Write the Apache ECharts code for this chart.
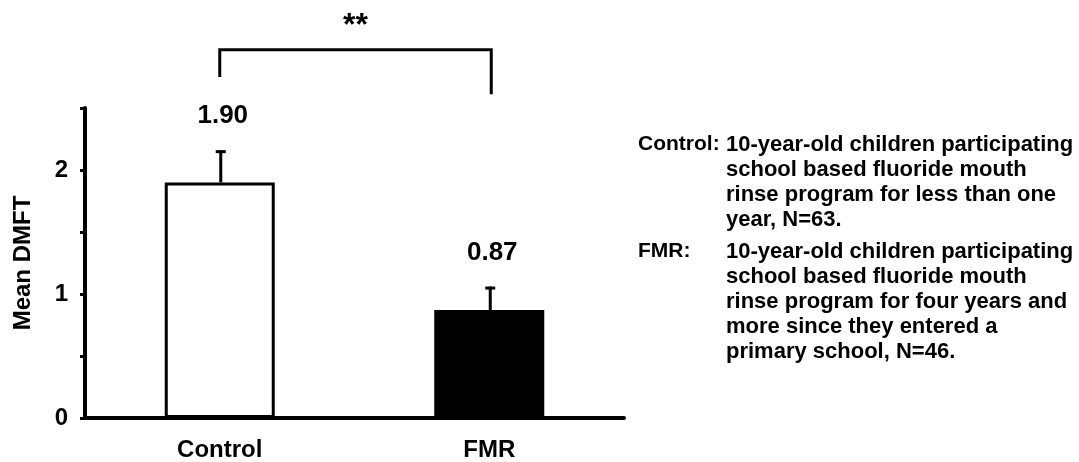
<!DOCTYPE html>
<html>
<head>
<meta charset="utf-8">
<script src="https://cdn.jsdelivr.net/npm/echarts@6/dist/echarts.min.js"></script>
<style>
  html, body { margin: 0; padding: 0; background: #fff; }
  #container { width: 1079px; height: 462px; }
</style>
</head>
<body>
<div id="container"></div>
<script>
// data
var categories = ['Control', 'FMR'];
var means = [1.90, 0.87];
var errors = [0.26, 0.19];
var valueLabels = ['1.90', '0.87'];
// bracket: left leg bottom, bracket top, right leg bottom (axis units)
var bracketLevels = [2.75, 2.97, 2.61];
var sigMark = '**';
var yTicks = [0, 1, 2];

var noteLabels = ['Control:', 'FMR:'];
var noteTexts = [
    ['10-year-old children participating', 'school based fluoride mouth', 'rinse program for less than one', 'year, N=63.'],
    ['10-year-old children participating', 'school based fluoride mouth', 'rinse program for four years and', 'more since they entered a', 'primary school, N=46.']
];

var FONT = '"Liberation Sans", Arial, sans-serif';
var myChart = echarts.init(document.getElementById('container'));

// notes on the right
var noteTop = [132, 239];
var graphics = [];
noteLabels.forEach(function (lab, i) {
    graphics.push({
        type: 'text', left: 638, top: noteTop[i],
        style: { text: lab, font: 'bold 21px ' + FONT, fill: '#000', lineHeight: 25 }
    });
    graphics.push({
        type: 'text', left: 726, top: noteTop[i],
        style: { text: noteTexts[i].join('\n'), font: 'bold 22px ' + FONT, fill: '#000', lineHeight: 25 }
    });
});

myChart.setOption({
    animation: false,
    backgroundColor: '#fff',
    textStyle: { fontFamily: FONT },
    grid: { left: 85, right: 455, top: 108, bottom: 43 },
    xAxis: {
        type: 'category',
        data: categories,
        axisLine: { lineStyle: { color: '#000', width: 4 } },
        axisTick: { show: false },
        axisLabel: { color: '#000', fontSize: 24, fontWeight: 'bold', margin: 20 }
    },
    yAxis: {
        type: 'value',
        min: 0, max: 2.5, interval: 0.5,
        name: 'Mean DMFT',
        nameLocation: 'middle',
        nameRotate: 90,
        nameGap: 50,
        nameTextStyle: { color: '#000', fontSize: 24, fontWeight: 'bold' },
        axisLine: { show: true, lineStyle: { color: '#000', width: 4 } },
        axisTick: { show: true, length: 5, lineStyle: { color: '#000', width: 3 } },
        splitLine: { show: false },
        axisLabel: {
            color: '#000', fontSize: 24, fontWeight: 'bold', margin: 17,
            formatter: function (v) { return yTicks.indexOf(v) >= 0 ? String(v) : ''; }
        }
    },
    graphic: graphics,
    series: [{
        type: 'bar',
        barWidth: 110,
        data: [
            { value: means[0], itemStyle: { color: '#fff', borderColor: '#000', borderWidth: 3 } },
            { value: means[1], itemStyle: { color: '#000', borderColor: '#000', borderWidth: 3 } }
        ],
        z: 2
    }, {
        // error bars with value labels
        type: 'custom',
        clip: false,
        z: 3,
        data: means.map(function (m, i) { return [i, m, errors[i]]; }),
        renderItem: function (params, api) {
            var i = api.value(0);
            var lo = api.coord([i, api.value(1)]);
            var hi = api.coord([i, api.value(1) + api.value(2)]);
            var x = lo[0] + 1;
            return {
                type: 'group',
                children: [{
                    type: 'line',
                    shape: { x1: x, y1: lo[1], x2: x, y2: hi[1] },
                    style: { stroke: '#000', lineWidth: 3 }
                }, {
                    type: 'line',
                    shape: { x1: x - 5, y1: hi[1] + 1.5, x2: x + 5, y2: hi[1] + 1.5 },
                    style: { stroke: '#000', lineWidth: 3 }
                }, {
                    type: 'text',
                    style: {
                        text: valueLabels[i], x: x + 2, y: hi[1] - 34,
                        align: 'center', verticalAlign: 'middle',
                        font: 'bold 26px ' + FONT, fill: '#000'
                    }
                }]
            };
        }
    }, {
        // significance bracket
        type: 'custom',
        clip: false,
        z: 3,
        data: [[0, 1]],
        renderItem: function (params, api) {
            var a = api.coord([0, bracketLevels[0]]);
            var top0 = api.coord([0, bracketLevels[1]]);
            var top1 = api.coord([1, bracketLevels[1]]);
            var b = api.coord([1, bracketLevels[2]]);
            return {
                type: 'group',
                children: [{
                    type: 'polyline',
                    shape: { points: [a, top0, [top1[0] + 2, top1[1]], [b[0] + 2, b[1]]] },
                    style: { stroke: '#000', lineWidth: 3, fill: null }
                }, {
                    type: 'text',
                    style: {
                        text: sigMark, x: (top0[0] + top1[0]) / 2 + 1, y: top0[1] - 24,
                        align: 'center', verticalAlign: 'middle',
                        font: 'bold 32px ' + FONT, fill: '#000'
                    }
                }]
            };
        }
    }]
});
</script>
</body>
</html>
